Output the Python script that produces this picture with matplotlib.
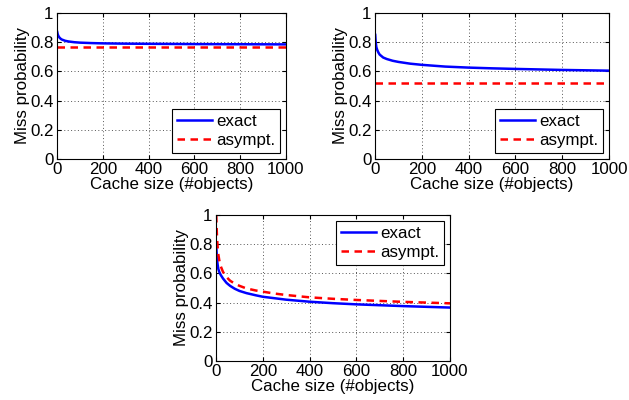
import matplotlib
matplotlib.use("Agg")
import matplotlib.pyplot as plt

plt.rcParams['font.family'] = ['Liberation Sans', 'DejaVu Sans']

# Panel 1 (top-left)
x1 = [1, 3, 6, 10, 15, 20, 35, 50, 75, 100, 150, 200, 300, 400, 600, 800, 1000]
exact1 = [0.87, 0.855, 0.843, 0.833, 0.825, 0.819, 0.81, 0.805, 0.80, 0.797, 0.794, 0.792, 0.790, 0.789, 0.787, 0.786, 0.785]
asym1_x = [0, 1000]
asym1 = [0.765, 0.765]

# Panel 2 (top-right)
x2 = [1, 3, 6, 10, 15, 20, 35, 50, 75, 100, 150, 200, 300, 400, 500, 600, 800, 1000]
exact2 = [0.85, 0.80, 0.765, 0.745, 0.728, 0.715, 0.695, 0.685, 0.673, 0.665, 0.653, 0.645, 0.633, 0.626, 0.621, 0.617, 0.610, 0.605]
asym2_x = [0, 1000]
asym2 = [0.52, 0.52]

# Panel 3 (bottom)
x3 = [1, 2, 4, 7, 10, 14, 20, 30, 45, 60, 80, 100, 130, 170, 200, 250, 300, 400, 500, 600, 800, 1000]
exact3 = [0.81, 0.76, 0.70, 0.66, 0.63, 0.61, 0.59, 0.565, 0.535, 0.515, 0.495, 0.48, 0.465, 0.45, 0.44, 0.43, 0.42, 0.406, 0.396, 0.388, 0.376, 0.366]
asym3 = [1.0, 0.95, 0.86, 0.78, 0.73, 0.69, 0.65, 0.61, 0.575, 0.55, 0.53, 0.515, 0.497, 0.483, 0.475, 0.462, 0.452, 0.436, 0.426, 0.418, 0.405, 0.395]

xticks = [0, 200, 400, 600, 800, 1000]
yticks = [0, 0.2, 0.4, 0.6, 0.8, 1]
ytick_labels = ['0', '0.2', '0.4', '0.6', '0.8', '1']
xlabel = 'Cache size (#objects)'
ylabel = 'Miss probability'
labels = ['exact', 'asympt.']

W, H = 629, 400
fig = plt.figure(figsize=(W / 100, H / 100), dpi=100)

def add_ax(l, r, t, b):
    return fig.add_axes([l / W, 1 - b / H, (r - l) / W, (b - t) / H])

panels = [
    (add_ax(57, 286, 13, 159), x1, exact1, asym1_x, asym1, 'lower right'),
    (add_ax(375, 609, 13, 159), x2, exact2, asym2_x, asym2, 'lower right'),
    (add_ax(216, 450, 215, 361), x3, exact3, x3, asym3, 'upper right'),
]

FS = 12.2
for ax, xe, ye, xa, ya, loc in panels:
    ax.plot(xe, ye, color='#0000ff', lw=1.8, label=labels[0])
    ax.plot(xa, ya, color='#ff0000', lw=1.8, ls=(0, (3, 2.2)), label=labels[1])
    ax.set_xlim(0, 1000)
    ax.set_ylim(0, 1)
    ax.set_xticks(xticks)
    ax.set_yticks(yticks)
    ax.set_yticklabels(ytick_labels)
    ax.tick_params(direction='in', labelsize=FS, length=3, top=True, right=True)
    ax.tick_params(axis='x', pad=2)
    ax.tick_params(axis='y', pad=2.5)
    ax.grid(True, color='#555555', ls=(0, (1, 2.5)), lw=0.7)
    ax.set_xlabel(xlabel, fontsize=FS, labelpad=0.5)
    ax.set_ylabel(ylabel, fontsize=FS, labelpad=0)
    for s in ax.spines.values():
        s.set_linewidth(0.8)
    leg = ax.legend(loc=loc, fontsize=FS, fancybox=False, framealpha=1,
                    edgecolor='black', handlelength=2.1, handletextpad=0.2,
                    borderpad=0.3, labelspacing=0.25, borderaxespad=0.35)
    leg.get_frame().set_linewidth(0.8)

fig.savefig('out.png', dpi=100)
